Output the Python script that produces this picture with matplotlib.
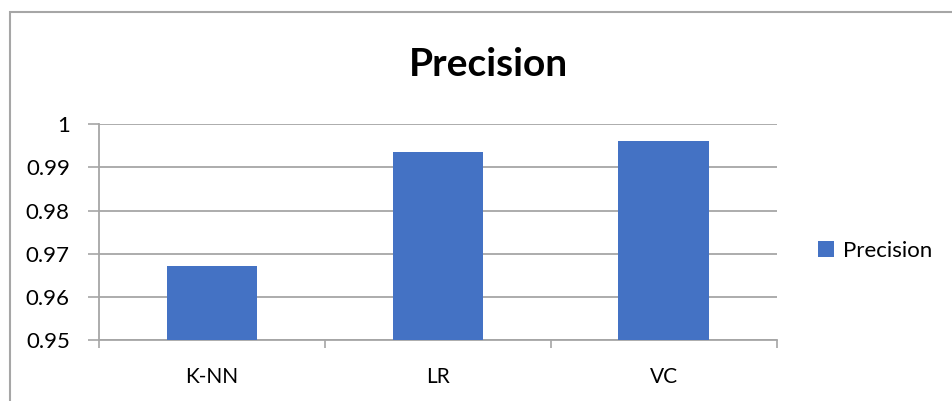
import matplotlib.pyplot as plt
from matplotlib.patches import Rectangle

# precision per classifier
models = ['K-NN', 'LR', 'VC']
precision = [0.9672, 0.99345, 0.99606]
yticks = [0.95, 0.96, 0.97, 0.98, 0.99, 1.0]
ytick_labels = ['0.95', '0.96', '0.97', '0.98', '0.99', '1']

plt.rcParams['font.family'] = ['Lato', 'DejaVu Sans']

fig = plt.figure(figsize=(9.52, 4.01), dpi=100)
ax = fig.add_axes([0.104, 0.1514, 0.7117, 0.5394])

grid_col = '#a6a6a6'
bar_col = '#4472c4'

x = list(range(len(models)))
ax.bar(x, precision, width=0.4, color=bar_col, label='Precision', zorder=3)

ax.set_xlim(-0.5, len(models) - 0.5)
ax.set_ylim(0.95, 1.0)
ax.set_yticks(yticks)
ax.set_yticklabels(ytick_labels, fontsize=16)
ax.set_xticks(x)
ax.set_xticklabels(models, fontsize=15)
ax.set_xticks([i - 0.5 for i in range(len(models) + 1)], minor=True)

ax.tick_params(axis='x', which='major', length=0, pad=19)
ax.tick_params(axis='x', which='minor', length=6, width=1.2, color=grid_col)
ax.tick_params(axis='y', length=8, width=1.2, color=grid_col, pad=13)

ax.yaxis.grid(True, color=grid_col, linewidth=1.3, zorder=0)
for side in ['top', 'right']:
    ax.spines[side].set_visible(False)
for side in ['left', 'bottom']:
    ax.spines[side].set_color(grid_col)
    ax.spines[side].set_linewidth(1.3)

fig.text(0.513, 0.838, 'Precision', fontsize=28, fontweight='bold',
         ha='center', va='center')

ax.legend(loc='center left', bbox_to_anchor=(1.032, 0.413), frameon=False,
          fontsize=16, handlelength=0.7, handleheight=0.7, handletextpad=0.4)

# chart border
fig.patches.append(Rectangle((9.5 / 952, -0.1), 1.2, 1.1 - 12 / 401,
                             transform=fig.transFigure, fill=False,
                             edgecolor=grid_col, linewidth=1.5))

fig.savefig('out.png', dpi=100)
